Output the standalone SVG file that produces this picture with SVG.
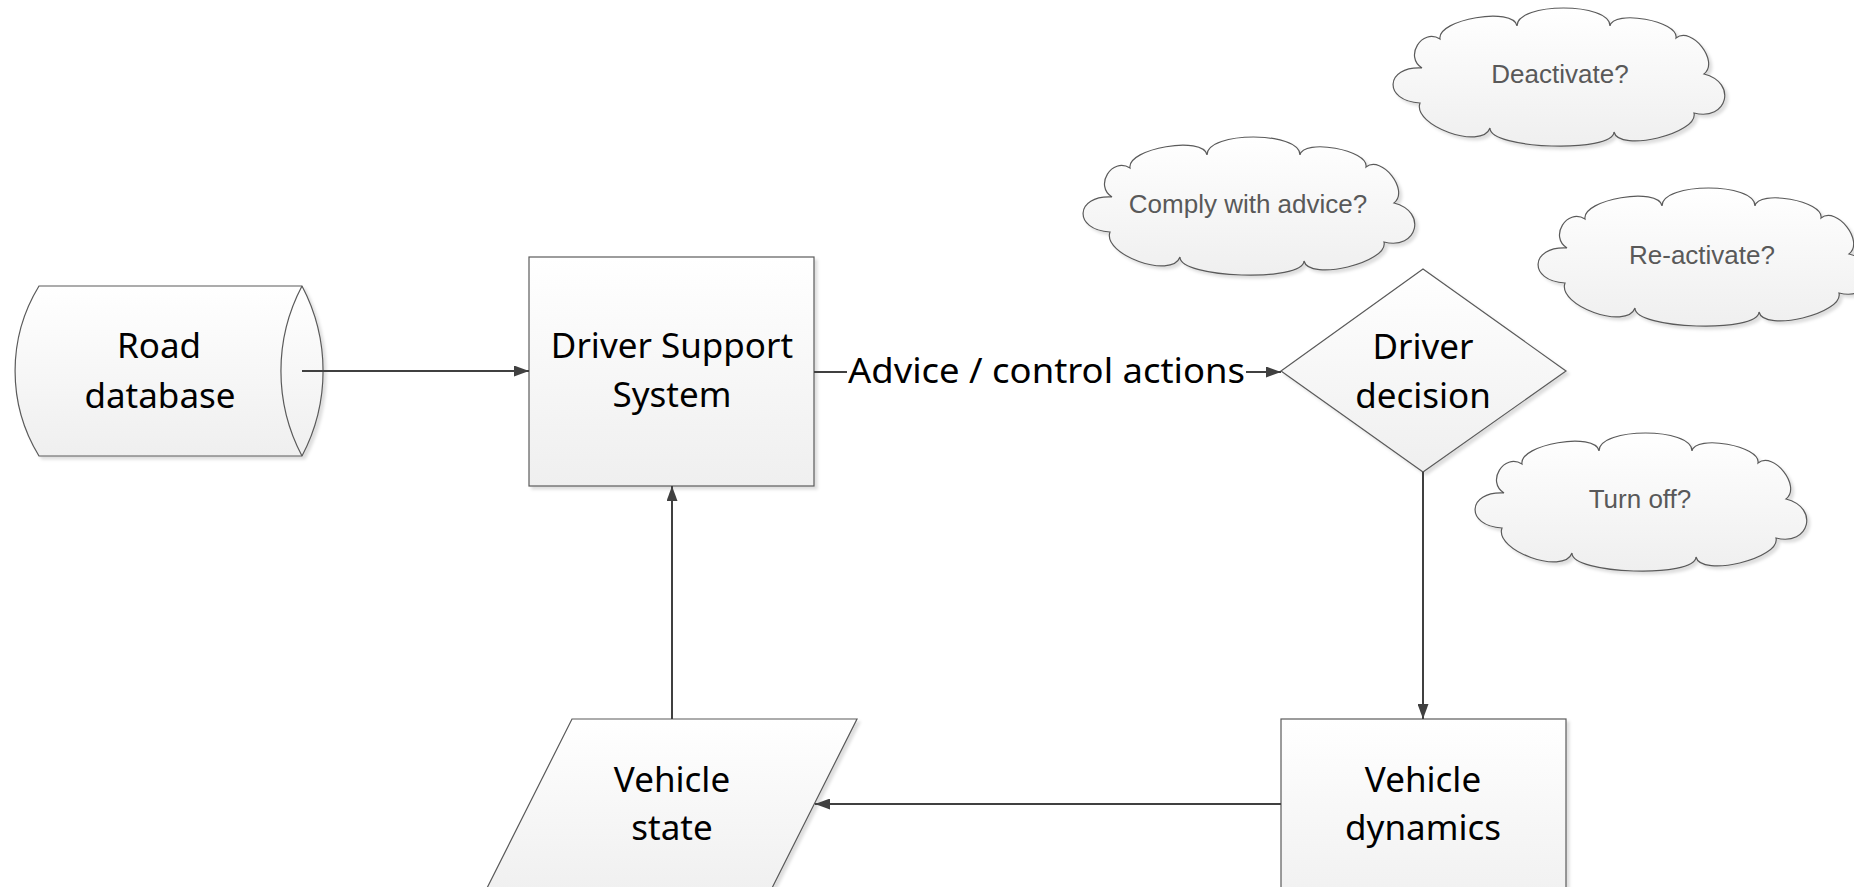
<svg xmlns="http://www.w3.org/2000/svg" width="1854" height="887" viewBox="0 0 1854 887">
<style>
.shape{fill:url(#g);stroke:#5a5a5a;stroke-width:1.2;filter:url(#sh)}
.cap{fill:none;stroke:#5a5a5a;stroke-width:1.2}
.t{font-family:"Noto Sans","Liberation Sans",sans-serif;font-size:35px;fill:#000;text-anchor:middle}
.ct{font-family:"Liberation Sans",Arial,sans-serif;font-size:26px;fill:#595959;text-anchor:middle}
.c{fill:none;stroke:#404040;stroke-width:2}
</style>
<defs>
<linearGradient id="g" x1="0" y1="0" x2="0" y2="1">
<stop offset="0" stop-color="#ffffff"/>
<stop offset="1" stop-color="#efefef"/>
</linearGradient>
<filter id="sh" x="-5%" y="-5%" width="115%" height="115%">
<feDropShadow dx="3" dy="3" stdDeviation="1.5" flood-color="#000" flood-opacity="0.13"/>
</filter>
<marker id="ah" viewBox="0 0 15 11" refX="15" refY="5.5" markerWidth="15" markerHeight="11" markerUnits="userSpaceOnUse" orient="auto">
<path d="M0,0 L15,5.5 L0,11 Z" fill="#404040"/>
</marker>
<path id="cloud" d="M48,31 C44.7,11.3 121.7,-1.7 125,18 C125,-6 218,-6 218,18 C221.1,1 287.1,13 284,30 C299.8,17.7 327.8,53.7 312,66 C345.6,74.6 335.6,113.6 302,105 C306.9,125.7 226.9,144.7 222,124 C221.3,145.3 97.3,141.3 98,120 C89.9,142.6 19.9,117.6 28,95 C-9.2,92.9 -7.2,57.9 30,60 C11.9,48.8 29.9,19.8 48,31 Z"/>
</defs>
<rect width="1854" height="887" fill="#fff"/>

<g id="road-database">
<path class="shape" d="M39,286 L302,286 A182,182 0 0 1 302,456 L39,456 A163,163 0 0 1 39,286 Z"/>
<path class="cap" d="M302,286 A182,182 0 0 0 302,456"/>
<text class="t" x="159" y="358">Road</text>
<text class="t" x="160" y="408">database</text>
</g>

<g id="driver-support-system">
<rect class="shape" x="529" y="257" width="285" height="229"/>
<text class="t" x="672" y="358">Driver Support</text>
<text class="t" x="672" y="407">System</text>
</g>

<g id="driver-decision">
<polygon class="shape" points="1423,269 1566,371 1423,472 1281,371"/>
<text class="t" x="1423" y="359">Driver</text>
<text class="t" x="1423" y="408">decision</text>
</g>

<g id="vehicle-dynamics">
<rect class="shape" x="1281" y="719" width="285" height="200"/>
<text class="t" x="1423" y="792">Vehicle</text>
<text class="t" x="1423" y="840">dynamics</text>
</g>

<g id="vehicle-state">
<polygon class="shape" points="572,719 857,719 766,900 481,900"/>
<text class="t" x="672" y="792">Vehicle</text>
<text class="t" x="672" y="840">state</text>
</g>

<g id="cloud-deactivate">
<use href="#cloud" class="shape" transform="translate(1392,8)"/>
<text class="ct" x="1560" y="83">Deactivate?</text>
</g>

<g id="cloud-comply">
<use href="#cloud" class="shape" transform="translate(1082,137)"/>
<text class="ct" x="1248" y="213">Comply with advice?</text>
</g>

<g id="cloud-reactivate">
<use href="#cloud" class="shape" transform="translate(1537,188)"/>
<text class="ct" x="1702" y="264">Re-activate?</text>
</g>

<g id="cloud-turnoff">
<use href="#cloud" class="shape" transform="translate(1474,433)"/>
<text class="ct" x="1640" y="508">Turn off?</text>
</g>

<g id="connectors">
<path class="c" d="M302,371 H529" marker-end="url(#ah)"/>
<path class="c" d="M814,372 H1281" marker-end="url(#ah)"/>
<rect x="847" y="350" width="399" height="44" fill="#fff"/>
<text x="848" y="383" font-family="Noto Sans, Liberation Sans, sans-serif" font-size="35" textLength="397" lengthAdjust="spacingAndGlyphs">Advice / control actions</text>
<path class="c" d="M1423,472 V719" marker-end="url(#ah)"/>
<path class="c" d="M1281,804 H815" marker-end="url(#ah)"/>
<path class="c" d="M672,719 V486" marker-end="url(#ah)"/>
</g>
</svg>
